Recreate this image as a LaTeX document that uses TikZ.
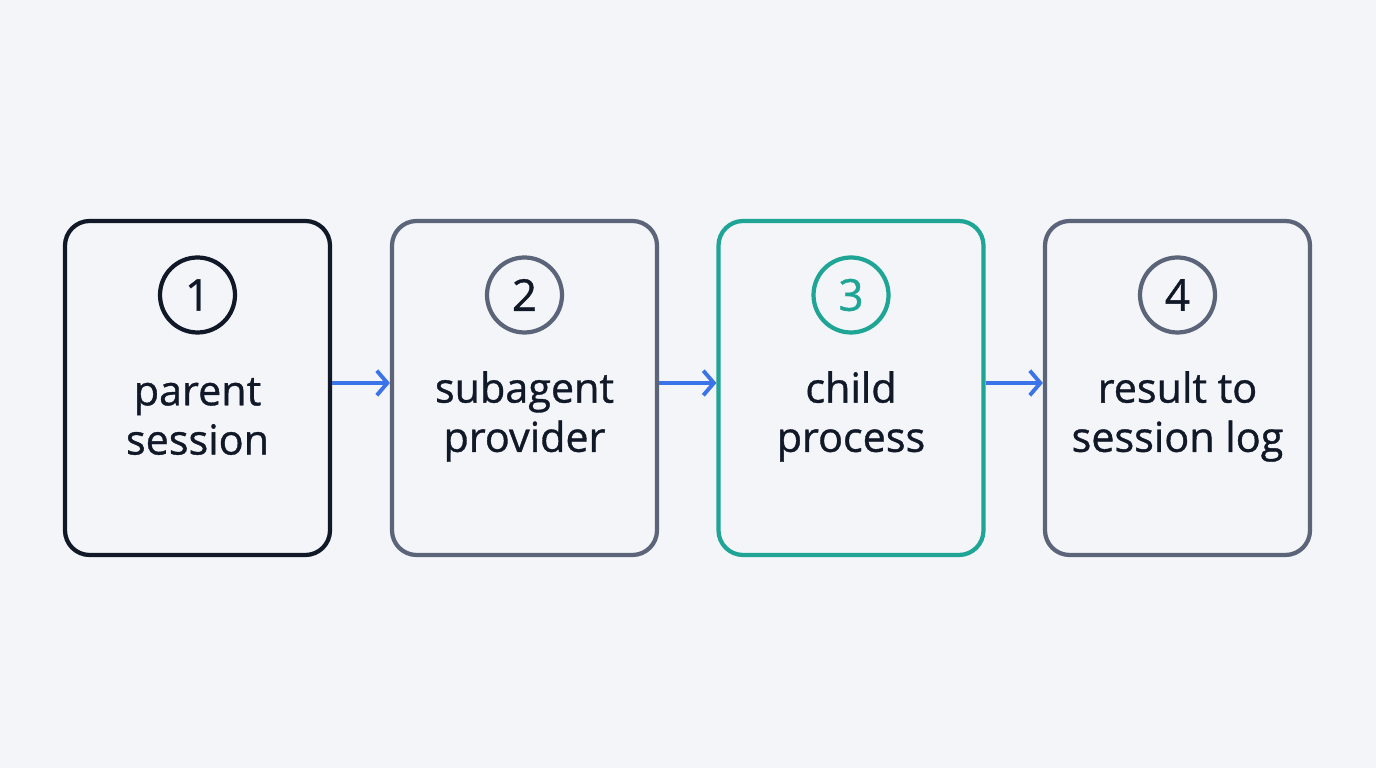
\documentclass[tikz,border=0pt]{standalone}
\usepackage{fontspec}
\setmainfont{Open Sans}
\newfontfamily\capfont[FakeBold=0.9]{Open Sans}
\usetikzlibrary{positioning,arrows.meta}
\definecolor{bgcol}{HTML}{F3F5F8}
\definecolor{navy}{HTML}{111827}
\definecolor{slate}{HTML}{5B6478}
\definecolor{teal}{HTML}{1FA595}
\definecolor{arrowblue}{HTML}{3B74E8}
\tikzset{
    stage/.style={draw,line width=2.4pt,rounded corners=14pt,minimum width=5.3cm,minimum height=6.68cm,fill=bgcol},
    num/.style={draw,circle,line width=2.4pt,minimum size=1.5cm,inner sep=0pt,font=\capfont\fontsize{25}{28}\selectfont},
    caption/.style={align=center,font=\capfont\fontsize{23.5}{28}\selectfont},
    flow/.style={-{Straight Barb[length=6pt,width=14pt]},line width=2.2pt,arrowblue}
}
\begin{document}
\begin{tikzpicture}
            \fill[bgcol] (0, 0) rectangle (27.52, 15.36);

            \node[stage,draw=navy] (s1) at (3.95, 7.6) {};
            \node[stage,draw=slate] (s2) at (10.49, 7.6) {};
            \node[stage,draw=teal] (s3) at (17.02, 7.6) {};
            \node[stage,draw=slate] (s4) at (23.55, 7.6) {};

            \node[num,draw=navy,text=navy] (n1) at (3.95, 9.46) {1};
            \node[num,draw=slate,text=navy] (n2) at (10.49, 9.46) {2};
            \node[num,draw=teal,text=teal] (n3) at (17.02, 9.46) {3};
            \node[num,draw=slate,text=navy] (n4) at (23.55, 9.46) {4};

            \node[caption,text=navy] (l1) at (3.95, 7.03) {parent\\session};
            \node[caption,text=navy] (l2) at (10.49, 7.03) {subagent\\provider};
            \node[caption,text=navy] (l3) at (17.02, 7.03) {child\\process};
            \node[caption,text=navy] (l4) at (23.55, 7.03) {result to\\session log};

            \draw[flow] (s1.east |- 0, 7.7) -- (s2.west |- 0, 7.7);
            \draw[flow] (s2.east |- 0, 7.7) -- (s3.west |- 0, 7.7);
            \draw[flow] (s3.east |- 0, 7.7) -- (s4.west |- 0, 7.7);
\end{tikzpicture}
\end{document}
